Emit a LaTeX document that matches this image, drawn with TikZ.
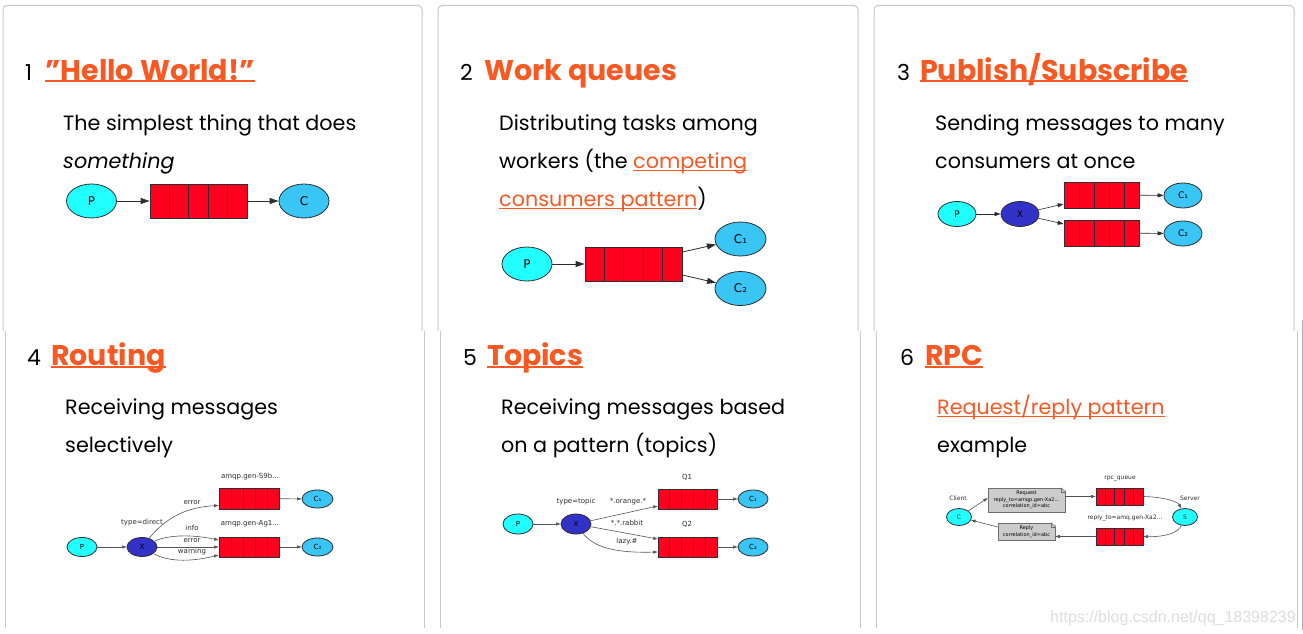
\documentclass[tikz,border=0pt]{standalone}
\usepackage{fontspec}
\setmainfont{Poppins}
\newfontfamily\gvfont{DejaVu Sans}
\newfontfamily\wmfont{Liberation Sans}
\usetikzlibrary{arrows.meta,calc,shapes.geometric}
\definecolor{orng}{RGB}{248,88,34}
\definecolor{pcyan}{RGB}{34,255,255}
\definecolor{cblue}{RGB}{58,198,245}
\definecolor{xblue}{RGB}{50,50,200}
\definecolor{qred}{RGB}{255,0,32}
\definecolor{edgec}{RGB}{45,45,45}
\definecolor{sedge}{RGB}{85,85,85}
\definecolor{panelc}{RGB}{200,200,200}
\definecolor{notec}{RGB}{204,204,204}
\definecolor{notebd}{RGB}{110,110,110}
\definecolor{wmc}{RGB}{222,222,222}
\definecolor{edgeblue}{RGB}{160,176,200}
\newcommand\ulnk[3]{\setbox0=\hbox{#3}\rlap{\rule[#1]{\wd0}{#2}}\box0}
\tikzset{
  panelline/.style={draw=panelc, line width=1pt},
  numtxt/.style={anchor=base west, inner sep=0pt, font=\fontsize{22}{22}\selectfont},
  ttltxt/.style={anchor=base west, inner sep=0pt, text=orng, font=\bfseries\fontsize{28.5}{28.5}\selectfont},
  desctxt/.style={anchor=base west, inner sep=0pt, font=\fontsize{20.7}{20.7}\selectfont},
  ell/.style={ellipse, draw=edgec, line width=0.8pt, inner sep=0pt},
  pnode/.style={ell, fill=pcyan},
  cnode/.style={ell, fill=cblue},
  xnode/.style={ell, fill=xblue},
  queue/.style={rectangle, draw=edgec, line width=0.8pt, fill=qred, inner sep=0pt,
    path picture={\foreach \k in {1,2,3,4}{\draw[edgec, line width=0.8pt]
      ($(path picture bounding box.south west)!\k/5!(path picture bounding box.south east)$) --
      ($(path picture bounding box.north west)!\k/5!(path picture bounding box.north east)$);}}},
  bigarr/.style={draw=edgec, line width=0.8pt, -{Triangle[length=9pt,width=6pt]}},
  midarr/.style={draw=edgec, line width=0.6pt, -{Triangle[length=6pt,width=4pt]}},
  smarr/.style={draw=sedge, line width=0.6pt, -{Triangle[length=4.5pt,width=3pt]}},
  bigl/.style={font=\gvfont\fontsize{12}{12}\selectfont},
  midl/.style={font=\gvfont\fontsize{9}{9}\selectfont},
  sml/.style={font=\gvfont\fontsize{7}{7}\selectfont},
  lbl/.style={inner sep=0pt, font=\gvfont\fontsize{7}{7}\selectfont, text=edgec},
  tlbl/.style={inner sep=0pt, font=\gvfont\fontsize{6}{6}\selectfont, text=edgec},
  note/.style={rectangle, draw=notebd, fill=notec, line width=0.5pt, inner sep=0pt, align=center, font=\gvfont\fontsize{5}{6.5}\selectfont},
}
\begin{document}
\begin{tikzpicture}[x=1pt,y=-1pt]
\useasboundingbox (0,0) rectangle (1303,634);
\fill[white] (0,0) rectangle (1303,634);
% panels
\draw[panelline, rounded corners=4pt] (3,331) -- (3,5.5) -- (422,5.5) -- (422,331);
\draw[panelline, rounded corners=4pt] (438,331) -- (438,5.5) -- (858,5.5) -- (858,331);
\draw[panelline, rounded corners=4pt] (874,331) -- (874,5.5) -- (1294,5.5) -- (1294,331);
\draw[panelline] (5,331) -- (5,628);
\draw[panelline] (424,331) -- (424,628);
\draw[panelline] (440,331) -- (440,628);
\draw[panelline] (860,331) -- (860,628);
\draw[panelline] (876,331) -- (876,628);
\draw[panelline] (1297,331) -- (1297,628);
\draw[edgeblue, line width=1pt] (1302,320) -- (1302,630);

% ---------- panel 1
\node[numtxt] (n1) at (25,80) {1};
\node[ttltxt] (t1) at (45,80) {\ulnk{-2.5pt}{2pt}{\symbol{34}Hello World!\symbol{34}}};
\node[desctxt] (d1a) at (63,130) {The simplest thing that does};
\node[desctxt] (d1b) at (63,168) {\itshape something};
\node[pnode, minimum width=50pt, minimum height=34pt, bigl] (p1) at (91.5,201) {P};
\node[queue, minimum width=97pt, minimum height=34pt] (q1) at (198.5,201) {};
\node[cnode, minimum width=50pt, minimum height=34pt, bigl] (c1) at (304,201) {C};
\draw[bigarr] (p1) -- (q1);
\draw[bigarr] (q1) -- (c1);

% ---------- panel 2
\node[numtxt] (n2) at (460,80) {2};
\node[ttltxt] (t2) at (484,80) {Work queues};
\node[desctxt] (d2a) at (499,130) {Distributing tasks among};
\node[desctxt] (d2b) at (499,168) {workers (the \textcolor{orng}{\ulnk{-3pt}{1.2pt}{competing}}};
\node[desctxt] (d2c) at (499,206) {\textcolor{orng}{\ulnk{-3pt}{1.2pt}{consumers pattern}})};
\node[pnode, minimum width=50pt, minimum height=34pt, bigl] (p2) at (527,264) {P};
\node[queue, minimum width=97pt, minimum height=34pt] (q2) at (633.5,264) {};
\node[cnode, minimum width=51pt, minimum height=34pt, bigl] (c21) at (740.5,239) {C₁};
\node[cnode, minimum width=51pt, minimum height=34pt, bigl] (c22) at (740.5,288.5) {C₂};
\draw[bigarr] (p2) -- (q2);
\draw[bigarr] ([yshift=12pt]q2.east) -- (c21);
\draw[bigarr] ([yshift=-11pt]q2.east) -- (c22);

% ---------- panel 3
\node[numtxt] (n3) at (897,80) {3};
\node[ttltxt] (t3) at (920,80) {\ulnk{-2.5pt}{2pt}{Publish/Subscribe}};
\node[desctxt] (d3a) at (935,130) {Sending messages to many};
\node[desctxt] (d3b) at (935,168) {consumers at once};
\node[pnode, minimum width=38pt, minimum height=25pt, midl] (p3) at (957,214) {P};
\node[xnode, minimum width=38pt, minimum height=25pt, midl] (x3) at (1020,214) {X};
\node[queue, minimum width=75pt, minimum height=26pt] (q31) at (1101.5,195) {};
\node[queue, minimum width=75pt, minimum height=26pt] (q32) at (1101.5,233) {};
\node[cnode, minimum width=38pt, minimum height=25pt, midl] (c31) at (1183,195.5) {C₁};
\node[cnode, minimum width=38pt, minimum height=25pt, midl] (c32) at (1183,233.5) {C₂};
\draw[midarr] (p3) -- (x3);
\draw[midarr] (x3) -- ([yshift=-9pt]q31.west);
\draw[midarr] (x3) -- ([yshift=9pt]q32.west);
\draw[midarr] (q31) -- (c31);
\draw[midarr] (q32) -- (c32);

% ---------- panel 4
\node[numtxt] (n4) at (27,365) {4};
\node[ttltxt] (t4) at (51,365) {\ulnk{-2.5pt}{2pt}{Routing}};
\node[desctxt] (d4a) at (65,414) {Receiving messages};
\node[desctxt] (d4b) at (65,452) {selectively};
\node[pnode, minimum width=30pt, minimum height=19pt, sml] (p4) at (82,547) {P};
\node[xnode, minimum width=30pt, minimum height=19pt, sml] (x4) at (142,547) {X};
\node[queue, minimum width=60pt, minimum height=21pt] (q41) at (249,498.5) {};
\node[queue, minimum width=60pt, minimum height=20pt] (q42) at (249,547) {};
\node[cnode, minimum width=31pt, minimum height=18pt, sml] (c41) at (317.5,499) {C₁};
\node[cnode, minimum width=31pt, minimum height=18pt, sml] (c42) at (317.5,547) {C₂};
\draw[smarr] (p4) -- (x4);
\draw[smarr] (x4) .. controls (168,515) and (190,507) .. ([yshift=-7pt]q41.west);
\draw[smarr] (x4) .. controls (170,534) and (195,535) .. ([yshift=7pt]q42.west);
\draw[smarr] (x4) -- (q42);
\draw[smarr] (x4) .. controls (170,563) and (195,561) .. ([yshift=-8pt]q42.west);
\draw[smarr] (q41) -- (c41);
\draw[smarr] (q42) -- (c42);
\node[lbl] (l4a) at (250,477) {amqp.gen-S9b...};
\node[lbl] (l4b) at (250,524) {amqp.gen-Ag1...};
\node[lbl] (l4c) at (142,523) {type=direct};
\node[lbl] (l4d) at (192,503) {error};
\node[lbl] (l4e) at (192,528) {info};
\node[lbl] (l4f) at (192,541) {error};
\node[lbl] (l4g) at (192,552) {warning};

% ---------- panel 5
\node[numtxt] (n5) at (463,365) {5};
\node[ttltxt] (t5) at (487,365) {\ulnk{-2.5pt}{2pt}{Topics}};
\node[desctxt] (d5a) at (501,414) {Receiving messages based};
\node[desctxt] (d5b) at (501,452) {on a pattern (topics)};
\node[pnode, minimum width=30pt, minimum height=20pt, sml] (p5) at (518,524) {P};
\node[xnode, minimum width=30pt, minimum height=20pt, sml] (x5) at (576,524) {X};
\node[queue, minimum width=59pt, minimum height=20pt] (q51) at (687.5,499) {};
\node[queue, minimum width=59pt, minimum height=20pt] (q52) at (687.5,547) {};
\node[cnode, minimum width=30pt, minimum height=18pt, sml] (c51) at (753,499) {C₁};
\node[cnode, minimum width=30pt, minimum height=18pt, sml] (c52) at (753,547) {C₂};
\draw[smarr] (p5) -- (x5);
\draw[smarr] (x5) -- ([yshift=-7pt]q51.west);
\draw[smarr] (x5) -- ([yshift=8pt]q52.west);
\draw[smarr] (x5) .. controls (595,549) and (620,553) .. ([yshift=-5pt]q52.west);
\draw[smarr] (q51) -- (c51);
\draw[smarr] (q52) -- (c52);
\node[lbl] (l5a) at (687,477) {Q1};
\node[lbl] (l5b) at (687,524) {Q2};
\node[lbl] (l5c) at (576,502) {type=topic};
\node[lbl] (l5d) at (628,502) {*.orange.*};
\node[lbl] (l5e) at (627,523) {*.*.rabbit};
\node[lbl] (l5f) at (627,542) {lazy.\#};

% ---------- panel 6
\node[numtxt] (n6) at (900,365) {6};
\node[ttltxt] (t6) at (925,365) {\ulnk{-2.5pt}{2pt}{RPC}};
\node[desctxt] (d6a) at (937,414) {\textcolor{orng}{\ulnk{-3pt}{1.2pt}{Request/reply pattern}}};
\node[desctxt] (d6b) at (937,452) {example};
\node[pnode, minimum width=25pt, minimum height=17pt, tlbl] (c6) at (959,517) {C};
\node[pnode, minimum width=25pt, minimum height=17pt, tlbl] (s6) at (1185,517) {S};
\node[queue, minimum width=47pt, minimum height=17pt] (q61) at (1119.5,496.5) {};
\node[queue, minimum width=47pt, minimum height=17pt] (q62) at (1119.5,536.5) {};
\node[note, minimum width=77pt, minimum height=24pt] (req) at (1026.5,500) {Request\\reply\_to=amqp.gen-Xa2...\\correlation\_id=abc};
\node[note, minimum width=57pt, minimum height=17pt] (rep) at (1026.5,531.5) {Reply\\correlation\_id=abc};
\foreach \nn in {req,rep}{
  \fill[white] ([xshift=-4pt]\nn.north east) -- ([xshift=1pt,yshift=1pt]\nn.north east) -- ([yshift=-4pt]\nn.north east) -- cycle;
  \draw[notebd, line width=0.5pt] ([xshift=-4pt]\nn.north east) -- ([yshift=-4pt]\nn.north east);
  \draw[notebd, line width=0.5pt] ([xshift=-4pt]\nn.north east) -- ([xshift=-4pt,yshift=-4pt]\nn.north east) -- ([yshift=-4pt]\nn.north east);
}
\draw[smarr] (c6) -- ([yshift=2pt]req.west);
\draw[smarr] (req.east |- q61) -- (q61.west);
\draw[smarr] (q61.east) .. controls (1165,497) and (1178,502) .. (s6);
\draw[smarr] (s6) .. controls (1178,533) and (1165,537) .. (q62.east);
\draw[smarr] (q62.west) -- (rep.east |- q62);
\draw[smarr] ([yshift=4.5pt]rep.west) -- (c6);
\node[tlbl] (l6a) at (958,498) {Client};
\node[tlbl] (l6b) at (1190,498) {Server};
\node[tlbl] (l6c) at (1120,479) {rpc\_queue};
\node[tlbl] (l6d) at (1125,518) {reply\_to=amq.gen-Xa2...};

% watermark
\node[anchor=base west, inner sep=0pt, font=\wmfont\fontsize{16}{16}\selectfont, text=wmc] (wm) at (1050,622) {https://blog.csdn.net/qq\_18398239};
\end{tikzpicture}
\end{document}
